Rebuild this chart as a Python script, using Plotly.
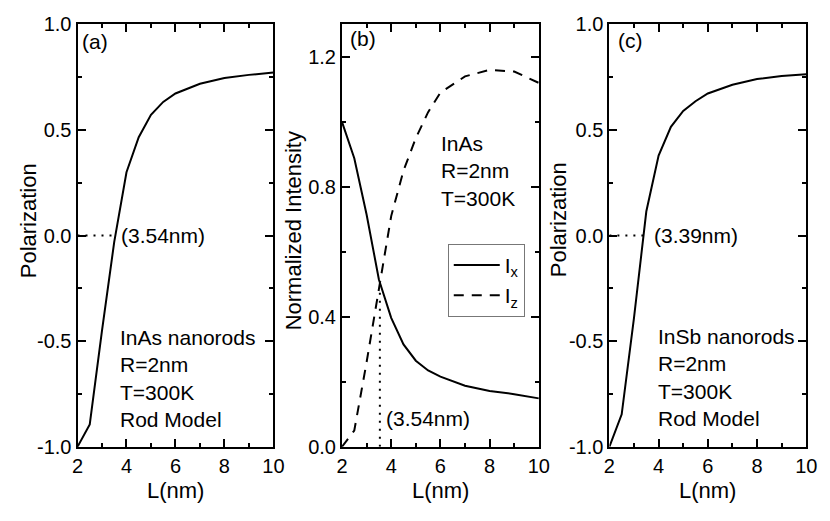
import plotly.graph_objects as go

# ---------------- data ----------------
L = [2, 2.5, 3, 3.5, 4, 4.5, 5, 5.5, 6, 7, 8, 9, 10]
pol_inas = [-1.0, -0.894, -0.45, -0.03, 0.30, 0.466, 0.572, 0.633, 0.673, 0.719, 0.746, 0.761, 0.772]
pol_insb = [-1.0, -0.846, -0.39, 0.114, 0.379, 0.515, 0.59, 0.636, 0.673, 0.714, 0.741, 0.756, 0.764]
I_x = [1.0, 0.888, 0.715, 0.515, 0.397, 0.315, 0.265, 0.235, 0.216, 0.188, 0.172, 0.162, 0.149]
I_z = [0.0, 0.05, 0.26, 0.49, 0.71, 0.85, 0.95, 1.03, 1.09, 1.14, 1.16, 1.155, 1.12]
cross_a = 3.54
cross_b = 3.54
cross_b_level = 0.49
cross_c = 3.39

x_ticks = [2, 4, 6, 8, 10]
x_ticktext = ["2", "4", "6", "8", "10"]
pol_ticks = [-1.0, -0.5, 0.0, 0.5, 1.0]
pol_ticktext = ["-1.0", "-0.5", "0.0", "0.5", "1.0"]
pol_minor = [-0.75, -0.25, 0.25, 0.75]
int_ticks = [0.0, 0.4, 0.8, 1.2]
int_ticktext = ["0.0", "0.4", "0.8", "1.2"]
int_minor = [0.2, 0.6, 1.0]

FONT = "Liberation Sans, Arial, sans-serif"
FS_TICK = 20
FS_TEXT = 21
FS_TITLE = 22
W, H = 830, 521

fig = go.Figure()
line = dict(color="black", width=2)
dotted = dict(color="black", width=2, dash="2px,6px")

# panel (a)
fig.add_trace(go.Scatter(x=L, y=pol_inas, mode="lines", line=line, showlegend=False, xaxis="x", yaxis="y"))
fig.add_trace(go.Scatter(x=[L[0], cross_a], y=[0, 0], mode="lines", line=dotted, showlegend=False, xaxis="x", yaxis="y"))
# panel (b)
fig.add_trace(go.Scatter(x=L, y=I_x, mode="lines", line=line, name="I<sub>x</sub>", legendgroup="x",
                         xaxis="x2", yaxis="y2"))
fig.add_trace(go.Scatter(x=L, y=I_z, mode="lines", line=dict(color="black", width=2, dash="10px,8px"),
                         name="I<sub>z</sub>", legendgroup="z", xaxis="x2", yaxis="y2"))
fig.add_trace(go.Scatter(x=[cross_b, cross_b], y=[0, cross_b_level], mode="lines", line=dotted, showlegend=False,
                         xaxis="x2", yaxis="y2"))
# panel (c)
fig.add_trace(go.Scatter(x=L, y=pol_insb, mode="lines", line=line, showlegend=False, xaxis="x3", yaxis="y3"))
fig.add_trace(go.Scatter(x=[L[0], cross_c], y=[0, 0], mode="lines", line=dotted, showlegend=False, xaxis="x3", yaxis="y3"))


def px_x(p):
    return p / W


def px_y(p):
    return 1 - p / H


ydom = [px_y(455), px_y(14)]
common_axis = dict(showline=True, linecolor="black", linewidth=2, mirror="ticks", ticks="inside",
                   ticklen=8, tickwidth=2, tickcolor="black", showgrid=False, zeroline=False,
                   tickfont=dict(family=FONT, size=FS_TICK, color="black"))

xaxis_common = dict(common_axis, range=[2, 10], tickvals=x_ticks, ticktext=x_ticktext,
                    minor=dict(tickvals=[3, 5, 7, 9], ticks="inside", ticklen=4, tickwidth=2, tickcolor="black"))

fig.update_layout(
    width=W, height=H, margin=dict(l=0, r=0, t=0, b=0),
    paper_bgcolor="white", plot_bgcolor="white",
    font=dict(family=FONT, size=FS_TEXT, color="black"),
    xaxis=dict(xaxis_common, domain=[px_x(73), px_x(273)], anchor="y"),
    xaxis2=dict(xaxis_common, domain=[px_x(343), px_x(544)], anchor="y2"),
    xaxis3=dict(xaxis_common, domain=[px_x(616), px_x(817)], anchor="y3"),
    yaxis=dict(common_axis, domain=ydom, anchor="x", range=[-1, 1], tickvals=pol_ticks, ticktext=pol_ticktext,
               minor=dict(tickvals=pol_minor, ticks="inside", ticklen=4, tickwidth=2, tickcolor="black")),
    yaxis2=dict(common_axis, domain=ydom, anchor="x2", range=[0, 1.3], tickvals=int_ticks, ticktext=int_ticktext,
                minor=dict(tickvals=int_minor, ticks="inside", ticklen=4, tickwidth=2, tickcolor="black")),
    yaxis3=dict(common_axis, domain=ydom, anchor="x3", range=[-1, 1], tickvals=pol_ticks, ticktext=pol_ticktext,
                minor=dict(tickvals=pol_minor, ticks="inside", ticklen=4, tickwidth=2, tickcolor="black")),
    legend=dict(x=px_x(451), y=px_y(243), xanchor="left", yanchor="top", bordercolor="#777", borderwidth=1,
                bgcolor="white", font=dict(family=FONT, size=FS_TEXT, color="black"),
                itemwidth=46, tracegroupgap=0),
)

ann = []


def text(x, y, t, xref, yref, xanchor="left", yanchor="middle", textangle=0, size=FS_TEXT):
    ann.append(dict(x=x, y=y, text=t, xref=xref, yref=yref, xanchor=xanchor, yanchor=yanchor, align="left",
                    showarrow=False, textangle=textangle, font=dict(family=FONT, size=size, color="black")))


text(2.12, 0.918, "(a)", "x", "y")
text(2.26, 1.256, "(b)", "x2", "y2")
text(2.26, 0.923, "(c)", "x3", "y3")
text(3.7, 0.0, "(3.54nm)", "x", "y")
text(3.72, 0.086, "(3.54nm)", "x2", "y2")
text(3.73, 0.0, "(3.39nm)", "x3", "y3")
text(3.66, -0.678, "InAs nanorods<br>R=2nm<br>T=300K<br>Rod Model", "x", "y")
text(5.96, 0.85, "InAs<br>R=2nm<br>T=300K", "x2", "y2")
text(3.91, -0.673, "InSb nanorods<br>R=2nm<br>T=300K<br>Rod Model", "x3", "y3")

# axis titles
for cx in [173, 443.5, 716.5]:
    text(px_x(cx), px_y(501), "L(nm)", "paper", "paper", xanchor="center", size=FS_TITLE)
text(px_x(23), px_y(219), "Polarization", "paper", "paper", xanchor="center", textangle=-90, size=FS_TITLE)
text(px_x(293), px_y(229), "Normalized Intensity", "paper", "paper", xanchor="center", textangle=-90, size=FS_TITLE)
text(px_x(564), px_y(218), "Polarization", "paper", "paper", xanchor="center", textangle=-90, size=FS_TITLE)

fig.update_layout(annotations=ann)
fig.write_html("out.html")
